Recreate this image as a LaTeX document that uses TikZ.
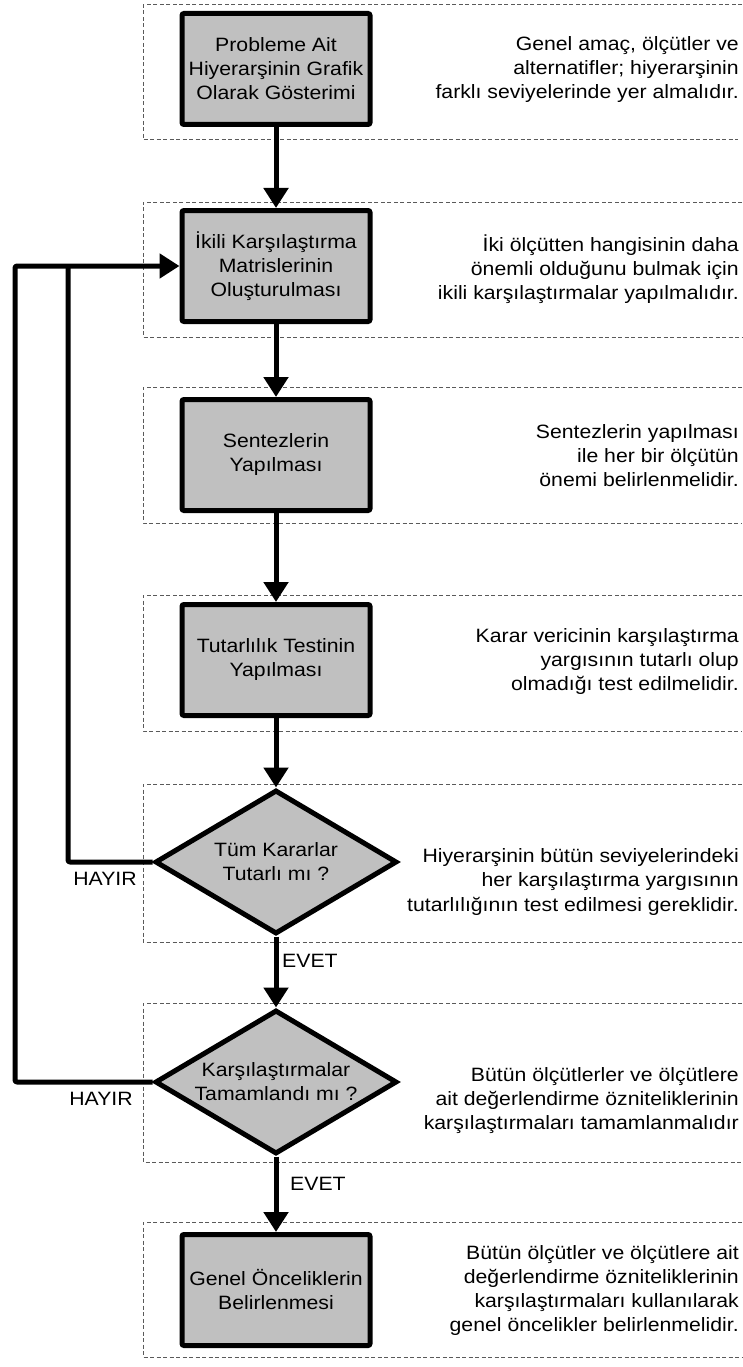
\documentclass[tikz,border=0pt]{standalone}
\usepackage{fontspec}
\setmainfont{Liberation Sans}[FakeStretch=1.1]
\usetikzlibrary{shapes.geometric,arrows.meta}
\definecolor{boxgray}{HTML}{C0C0C0}
\definecolor{panelgray}{HTML}{5A5A5A}
\begin{document}
\begin{tikzpicture}[x=1pt,y=-1pt,
  every node/.style={font=\fontsize{19.3}{24}\selectfont},
  stepbox/.style={draw,line width=5pt,fill=boxgray,rounded corners=2pt,
    minimum width=188pt,minimum height=111pt,align=center,inner sep=0pt},
  decision/.style={diamond,draw,line width=5pt,fill=boxgray,align=center,
    inner sep=0pt,shape aspect=1.66,minimum width=242pt,minimum height=144pt},
  note/.style={align=right,anchor=east,inner sep=0pt},
  panel/.style={draw=panelgray,line width=1pt,dash pattern=on 4pt off 2.5pt},
  flow/.style={line width=5pt,rounded corners=2pt,line join=round,
    -{Triangle[length=20pt,width=24pt]}},
  link/.style={line width=5pt,rounded corners=2pt,line join=round},
]
\useasboundingbox (0,0) rectangle (742,1367);

% dashed stage panels, open to the right
\draw[panel] (742,5)    -| (143,140)  -- (738,140);
\draw[panel] (742,202)  -| (143,337)  -- (742,337);
\draw[panel] (742,387)  -| (143,523)  -- (742,523);
\draw[panel] (742,595)  -| (143,731)  -- (742,731);
\draw[panel] (742,784)  -| (143,942)  -- (742,942);
\draw[panel] (742,1003) -| (143,1162) -- (742,1162);
\draw[panel] (742,1222) -| (143,1357) -- (742,1357);

% process steps
\node[stepbox] (b1) at (276,69)   {Probleme Ait\\Hiyerarşinin Grafik\\Olarak Gösterimi};
\node[stepbox] (b2) at (276,266)  {İkili Karşılaştırma\\Matrislerinin\\Oluşturulması};
\node[stepbox] (b3) at (276,455)  {Sentezlerin\\Yapılması};
\node[stepbox] (b4) at (276,660)  {Tutarlılık Testinin\\Yapılması};
\node[decision] (d1) at (276,862) {Tüm Kararlar\\Tutarlı mı ?};
\node[decision] (d2) at (276,1082) {Karşılaştırmalar\\Tamamlandı mı ?};
\node[stepbox] (b5) at (276,1290) {Genel Önceliklerin\\Belirlenmesi};

% explanations
\node[note] (n1) at (739,70)   {Genel amaç, ölçütler ve\\alternatifler; hiyerarşinin\\farklı seviyelerinde yer almalıdır.};
\node[note] (n2) at (739,269)  {İki ölçütten hangisinin daha\\önemli olduğunu bulmak için\\ikili karşılaştırmalar yapılmalıdır.};
\node[note] (n3) at (739,456)  {Sentezlerin yapılması\\ile her bir ölçütün\\önemi belirlenmelidir.};
\node[note] (n4) at (739,662)  {Karar vericinin karşılaştırma\\yargısının tutarlı olup\\olmadığı test edilmelidir.};
\node[note] (n5) at (739,882)  {Hiyerarşinin bütün seviyelerindeki\\her karşılaştırma yargısının\\tutarlılığının test edilmesi gereklidir.};
\node[note] (n6) at (739,1101) {Bütün ölçütlerler ve ölçütlere\\ait değerlendirme özniteliklerinin\\karşılaştırmaları tamamlanmalıdır};
\node[note] (n7) at (739,1290) {Bütün ölçütler ve ölçütlere ait\\değerlendirme özniteliklerinin\\karşılaştırmaları kullanılarak\\genel öncelikler belirlenmelidir.};

% main flow
\draw[flow] (b1.south) -- (b2.north);
\draw[flow] (b2.south) -- (b3.north);
\draw[flow] (b3.south) -- (b4.north);
\draw[flow] (b4.south) -- (d1.north);
\draw[flow] (d1.south) -- (d2.north);
\draw[flow] (d2.south) -- (b5.north);

% feedback loops
\coordinate (j1) at (68,266);
\coordinate (j2) at (15,266);
\draw[link] (d1.west) -| (j1);
\draw[flow] (d2.west) -| (j2) -- (b2.west);

% branch labels
\node (h1) at (105,879)  {HAYIR};
\node (h2) at (101,1099) {HAYIR};
\node[anchor=west,inner sep=0pt] (e1) at (282,961)  {EVET};
\node[anchor=west,inner sep=0pt] (e2) at (290,1184) {EVET};
\end{tikzpicture}
\end{document}
